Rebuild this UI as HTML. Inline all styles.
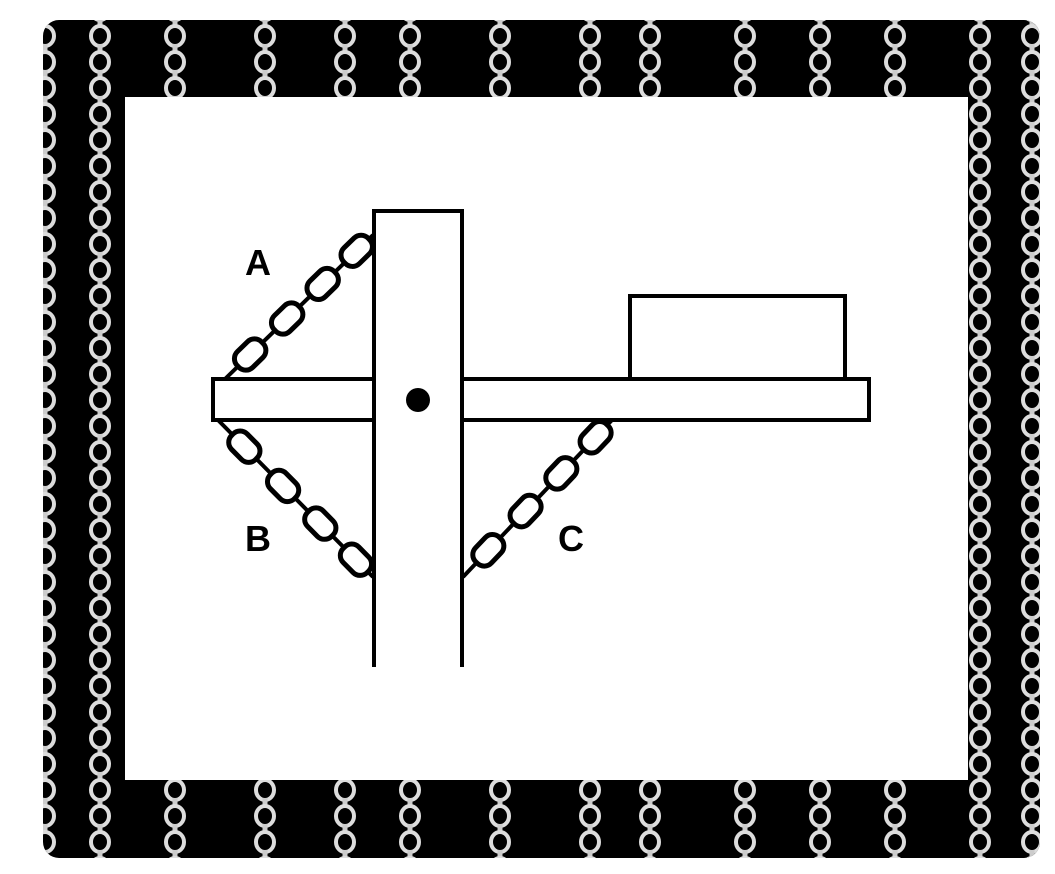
<!DOCTYPE html>
<html><head><meta charset="utf-8"><style>
html,body{margin:0;padding:0;background:#fff;width:1055px;height:874px;overflow:hidden}
svg{display:block}
</style></head><body>
<svg id="s" width="1055" height="874" viewBox="0 0 1055 874">
<defs><clipPath id="fr"><rect x="43" y="20" width="997" height="838" rx="16"/></clipPath></defs>
<rect x="43" y="20" width="997" height="838" rx="16" fill="#000"/>
<g id="bgchains" clip-path="url(#fr)"></g>
<rect x="125" y="97" width="843" height="683" fill="#fff"/>
<g id="diag" stroke="#000" stroke-width="4" fill="#fff">
<rect x="213" y="379" width="656" height="41"/>
<rect x="630" y="296" width="215" height="83"/>
<path d="M374 667 V211 H462 V667" fill="#fff"/>
<line x1="374" y1="379" x2="374" y2="420" stroke="#fff" stroke-width="3"/>
<line x1="462" y1="379" x2="462" y2="420" stroke="#fff" stroke-width="3"/>
<path d="M374 379 V420 M462 379 V420" />
<circle cx="418" cy="400" r="12" fill="#000" stroke="none"/>
</g>
<g font-family="Liberation Sans, sans-serif" font-weight="bold" font-size="36" fill="#000">
<text x="245" y="275">A</text>
<text x="245" y="551">B</text>
<text x="558" y="551">C</text>
</g>
</svg>
<script>
const NS='http://www.w3.org/2000/svg';
const bg=document.getElementById('bgchains');
const chainXs=[45,100,175,265,345,410,500,590,650,745,820,895,980,1032];
for(const x of chainXs){
  for(let y=10;y<870;y+=26){
    const c=document.createElementNS(NS,'ellipse');
    c.setAttribute('cx',x);c.setAttribute('cy',y);
    c.setAttribute('rx',9);c.setAttribute('ry',10);
    c.setAttribute('fill','none');c.setAttribute('stroke','#ddd');c.setAttribute('stroke-width','4');
    
    
    bg.appendChild(c);
    const r=document.createElementNS(NS,'rect');
    r.setAttribute('x',x-2.5);r.setAttribute('y',y+8);r.setAttribute('width',5);r.setAttribute('height',10);
    r.setAttribute('fill','#ccc');
    
    
    bg.appendChild(r);
  }
}
const diag=document.getElementById('diag');
const chains=[[225,379,373,235,'chain-a'],[218,420,373,577,'chain-b'],[463,577,612,420,'chain-c']];
for(const [x1,y1,x2,y2,nm] of chains){
  const g=document.createElementNS(NS,'g');
  
  
  const l=document.createElementNS(NS,'line');
  l.setAttribute('x1',x1);l.setAttribute('y1',y1);l.setAttribute('x2',x2);l.setAttribute('y2',y2);
  g.appendChild(l);
  const ang=Math.atan2(y2-y1,x2-x1)*180/Math.PI;
  for(const f of [0.17,0.42,0.66,0.89]){
    const cx=x1+(x2-x1)*f, cy=y1+(y2-y1)*f;
    const r=document.createElementNS(NS,'rect');
    r.setAttribute('x',-17);r.setAttribute('y',-11);r.setAttribute('width',34);r.setAttribute('height',22);
    r.setAttribute('rx',10);
    r.setAttribute('stroke-width','5');
    r.setAttribute('transform',`translate(${cx},${cy}) rotate(${ang})`);
    
    
    g.appendChild(r);
  }
  diag.insertBefore(g,diag.firstChild);
}
</script>
</body></html>
